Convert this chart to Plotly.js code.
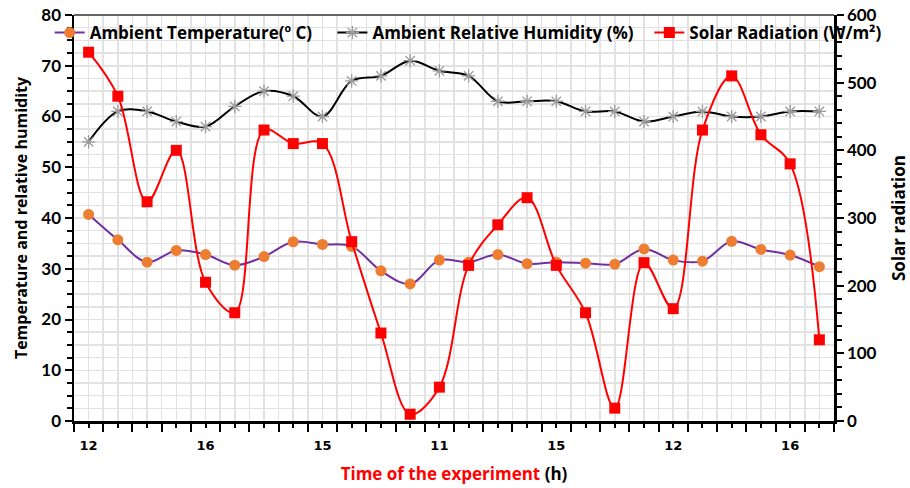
<!DOCTYPE html>
<html><head><meta charset="utf-8">
<script src="https://cdn.plot.ly/plotly-3.0.1.min.js"></script>
<style>html,body{margin:0;padding:0;background:#fff}#chart{width:910px;height:488px}</style>
</head><body><div id="chart"></div>
<script>
const pointIndex = [0,1,2,3,4,5,6,7,8,9,10,11,12,13,14,15,16,17,18,19,20,21,22,23,24,25];
const tickLabels = ['12','','','','16','','','','15','','','','11','','','','15','','','','12','','','','16',''];
const ambientTemperature = [40.7,35.7,31.3,33.6,32.8,30.7,32.4,35.3,34.8,34.4,29.6,27.0,31.7,31.3,32.8,31.0,31.3,31.1,30.9,33.9,31.7,31.5,35.4,33.8,32.7,30.4];
const relativeHumidity = [55,61,61,59,58,62,65,64,60,67,68,71,69,68,63,63,63,61,61,59,60,61,60,60,61,61];
const solarRadiation = [545,480,324,400,205,160,430,410,410,265,130,10,50,230,290,330,230,160,19,234,166,430,510,423,380,120];

const FONT = '"Open Sans", Lato, sans-serif';
const TICKFONT = 'Lato, "Open Sans", sans-serif';
const grid = '#e2e2e2';

const traces = [
  {x: pointIndex, y: ambientTemperature, name: '<b>Ambient Temperature(º C)</b>', type: 'scatter', mode: 'lines+markers', legend: 'legend',
   line: {color: '#7030A0', width: 2, shape: 'spline', smoothing: 1},
   marker: {color: '#ED7D31', size: 11, symbol: 'circle'}},
  {x: pointIndex, y: relativeHumidity, name: '<b>Ambient Relative Humidity (%)</b>', type: 'scatter', mode: 'lines+markers', legend: 'legend2',
   line: {color: '#000000', width: 2, shape: 'spline', smoothing: 1},
   marker: {color: '#9a9a9a', size: 11, symbol: 'asterisk-open', line: {color: '#9a9a9a', width: 1.3}}},
  {x: pointIndex, y: solarRadiation, name: '<b>Solar Radiation (W/m²)</b>', type: 'scatter', mode: 'lines+markers', yaxis: 'y2', legend: 'legend3',
   line: {color: '#FF0000', width: 2, shape: 'spline', smoothing: 1},
   marker: {color: '#FF0000', size: 11, symbol: 'square'}}
];

function leg(x) {
  return {orientation: 'h', x: x, xanchor: 'left', y: 0.9557, yanchor: 'middle',
          bgcolor: 'rgba(0,0,0,0)', font: {family: FONT, size: 17, color: '#000'}};
}

const layout = {
  width: 910, height: 488,
  margin: {l: 74, r: 76, t: 15, b: 67},
  paper_bgcolor: '#fff', plot_bgcolor: '#fff',
  font: {family: FONT, color: '#000', size: 15},
  showlegend: true,
  legend: leg(-0.032),
  legend2: leg(0.340),
  legend3: leg(0.757),
  xaxis: {
    range: [-0.5, 25.5], tickmode: 'array', tickvals: pointIndex, ticktext: tickLabels,
    ticks: 'outside', ticklen: 4, tickwidth: 2, tickcolor: '#000', ticklabelstandoff: 7,
    showgrid: true, gridcolor: grid, gridwidth: 1.5, zeroline: false,
    showline: true, linecolor: '#000', linewidth: 2.5,
    tickfont: {family: '"DejaVu Sans", sans-serif', size: 13, color: '#000', weight: 'bold'},
    minor: {tickmode: 'linear', tick0: -0.5, dtick: 1, ticks: 'outside', ticklen: 8, tickwidth: 2, tickcolor: '#000', showgrid: true, gridcolor: grid, gridwidth: 1.5},
    title: {text: '<b><span style="color:#FF0000">Time of the experiment</span> (h)</b>', font: {family: FONT, size: 17, color: '#000'}, standoff: 16}
  },
  yaxis: {
    range: [0, 80], dtick: 10, ticks: 'outside', ticklen: 7, tickwidth: 2, tickcolor: '#000',
    showgrid: true, gridcolor: grid, gridwidth: 1.5, zeroline: false,
    showline: true, linecolor: '#000', linewidth: 2.5,
    tickfont: {family: TICKFONT, size: 17, color: '#000', weight: 'bold'},
    minor: {dtick: 2.5, ticks: 'outside', ticklen: 5, tickwidth: 2, tickcolor: '#000', showgrid: true, gridcolor: grid, gridwidth: 1.5},
    title: {text: '<b>Temperature and relative humidity</b>', font: {family: FONT, size: 16, color: '#000'}, standoff: 10}
  },
  yaxis2: {
    overlaying: 'y', side: 'right', range: [0, 600], dtick: 100, ticks: 'outside', ticklen: 7, tickwidth: 2, tickcolor: '#000',
    showgrid: false, zeroline: false, showline: true, linecolor: '#000', linewidth: 2.5,
    tickfont: {family: TICKFONT, size: 17, color: '#000', weight: 'bold'},
    minor: {dtick: 20, ticks: 'outside', ticklen: 5, tickwidth: 2, tickcolor: '#000', showgrid: false},
    title: {text: '<b>Solar radiation</b>', font: {family: FONT, size: 17, color: '#000'}, standoff: 20}
  },
  shapes: [{type: 'line', xref: 'paper', yref: 'paper', x0: 0, x1: 1, y0: 1, y1: 1, line: {color: '#333', width: 1.5}}]
};

Plotly.newPlot('chart', traces, layout, {displayModeBar: false, staticPlot: true});
</script>
</body></html>
